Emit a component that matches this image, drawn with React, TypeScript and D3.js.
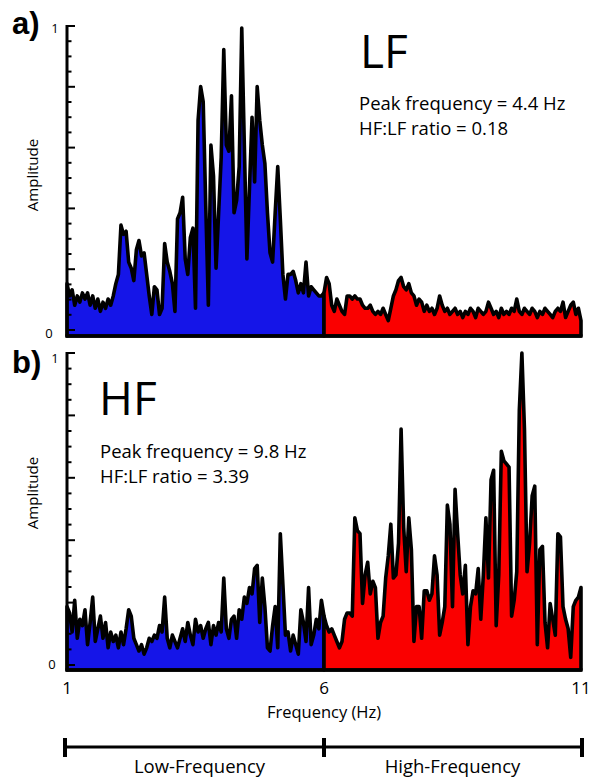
import React from "react";
import * as d3 from "d3";

const FREQ_DOMAIN = [1, 11];
const BAND_SPLIT = 6;
const X_TICKS = [1, 6, 11];
const Y_TICK_LABELS = [0, 1];
const BAND_LABELS = ["Low-Frequency", "High-Frequency"];

// Panel a) amplitudes, 1 Hz .. 11 Hz, step 0.05 Hz
const LF_AMP = [
  0.17, 0.13, 0.15, 0.10, 0.13, 0.11, 0.14, 0.12, 0.14, 0.10, 0.13, 0.09, 0.12, 0.08, 0.11, 0.09, 0.12, 0.10, 0.13, 0.17,
  0.20, 0.36, 0.33, 0.34, 0.24, 0.22, 0.18, 0.28, 0.31, 0.26, 0.27, 0.20, 0.13, 0.07, 0.16, 0.15, 0.07, 0.09, 0.30, 0.24,
  0.21, 0.17, 0.08, 0.38, 0.40, 0.45, 0.25, 0.20, 0.32, 0.35, 0.09, 0.70, 0.81, 0.76, 0.42, 0.10, 0.62, 0.52, 0.22, 0.40,
  0.58, 0.93, 0.62, 0.60, 0.78, 0.40, 0.44, 0.55, 1.00, 0.62, 0.25, 0.48, 0.71, 0.50, 0.81, 0.70, 0.62, 0.56, 0.40, 0.27,
  0.24, 0.40, 0.55, 0.38, 0.20, 0.12, 0.20, 0.20, 0.21, 0.18, 0.14, 0.17, 0.14, 0.24, 0.13, 0.16, 0.15, 0.14, 0.13, 0.13,
  0.14, 0.19, 0.17, 0.10, 0.08, 0.12, 0.10, 0.08, 0.07, 0.13, 0.13, 0.12, 0.13, 0.12, 0.12, 0.10, 0.09, 0.09, 0.10, 0.08,
  0.07, 0.08, 0.07, 0.09, 0.07, 0.05, 0.09, 0.13, 0.15, 0.18, 0.19, 0.16, 0.15, 0.17, 0.14, 0.13, 0.10, 0.12, 0.11, 0.08,
  0.10, 0.08, 0.09, 0.07, 0.09, 0.13, 0.10, 0.08, 0.09, 0.07, 0.08, 0.09, 0.07, 0.08, 0.06, 0.08, 0.07, 0.09, 0.08, 0.06,
  0.09, 0.08, 0.07, 0.08, 0.11, 0.09, 0.07, 0.08, 0.06, 0.09, 0.07, 0.08, 0.07, 0.09, 0.08, 0.12, 0.08, 0.07, 0.09, 0.08,
  0.07, 0.09, 0.08, 0.06, 0.08, 0.07, 0.09, 0.08, 0.07, 0.06, 0.08, 0.09, 0.08, 0.11, 0.06, 0.08, 0.10, 0.11, 0.07, 0.09, 0.05,
];

// Panel b) amplitudes, 1 Hz .. 11 Hz, step 0.05 Hz
const HF_AMP = [
  0.20, 0.18, 0.12, 0.22, 0.10, 0.16, 0.14, 0.19, 0.08, 0.15, 0.23, 0.09, 0.13, 0.17, 0.10, 0.15, 0.07, 0.12, 0.09, 0.11,
  0.07, 0.12, 0.08, 0.13, 0.19, 0.17, 0.10, 0.08, 0.06, 0.08, 0.05, 0.07, 0.10, 0.09, 0.11, 0.10, 0.14, 0.12, 0.23, 0.10,
  0.07, 0.11, 0.09, 0.07, 0.10, 0.13, 0.09, 0.15, 0.11, 0.08, 0.16, 0.12, 0.14, 0.10, 0.13, 0.15, 0.08, 0.14, 0.11, 0.15,
  0.12, 0.29, 0.13, 0.10, 0.16, 0.17, 0.10, 0.19, 0.16, 0.23, 0.21, 0.26, 0.24, 0.32, 0.33, 0.15, 0.29, 0.20, 0.07, 0.06,
  0.14, 0.20, 0.07, 0.43, 0.27, 0.11, 0.12, 0.06, 0.11, 0.08, 0.05, 0.19, 0.15, 0.09, 0.26, 0.08, 0.11, 0.16, 0.13, 0.22,
  0.17, 0.14, 0.12, 0.13, 0.11, 0.09, 0.07, 0.09, 0.16, 0.18, 0.18, 0.17, 0.48, 0.44, 0.43, 0.21, 0.30, 0.34, 0.24, 0.28,
  0.26, 0.10, 0.15, 0.17, 0.29, 0.36, 0.46, 0.29, 0.30, 0.40, 0.76, 0.45, 0.31, 0.48, 0.38, 0.09, 0.20, 0.20, 0.10, 0.25,
  0.25, 0.22, 0.24, 0.36, 0.30, 0.11, 0.15, 0.20, 0.52, 0.46, 0.20, 0.57, 0.43, 0.30, 0.24, 0.33, 0.08, 0.20, 0.25, 0.24,
  0.32, 0.16, 0.30, 0.48, 0.29, 0.60, 0.63, 0.14, 0.30, 0.69, 0.66, 0.65, 0.64, 0.17, 0.22, 0.31, 0.82, 1.00, 0.76, 0.31,
  0.40, 0.55, 0.58, 0.08, 0.38, 0.39, 0.15, 0.07, 0.21, 0.16, 0.11, 0.43, 0.42, 0.20, 0.16, 0.13, 0.04, 0.20, 0.22, 0.23, 0.26,
];

const FONT = "'Open Sans', sans-serif";
const BOLD_FONT = "'Liberation Sans', Arial, sans-serif";
const BLUE = "#1515e8";
const RED = "#fa0000";

const x = d3.scaleLinear().domain(FREQ_DOMAIN).range([67, 581]);

type PanelProps = {
  amps: number[];
  top: number;
  bottom: number;
  tickTop: number;
  tickBottom: number;
  letter: string;
  letterY: number;
  title: string;
  titleX: number;
  titleY: number;
  lines: string[];
  infoX: number;
  infoY: number;
  ampY: number;
  oneLabelY: number;
  zeroLabelX: number;
  zeroLabelY: number;
};

function Panel(p: PanelProps) {
  const y = d3.scaleLinear().domain([0, 1]).range([p.bottom, p.top]);
  const yt = d3.scaleLinear().domain([0, 1]).range([p.tickBottom, p.tickTop]);
  const n = p.amps.length;
  const pts = p.amps.map((a, i) => ({
    f: FREQ_DOMAIN[0] + ((FREQ_DOMAIN[1] - FREQ_DOMAIN[0]) * i) / (n - 1),
    a,
  }));
  const area = d3
    .area<{ f: number; a: number }>()
    .x((d) => x(d.f))
    .y0(y(0))
    .y1((d) => y(d.a))
    .curve(d3.curveLinear);
  const low = pts.filter((q) => q.f <= BAND_SPLIT + 1e-9);
  const high = pts.filter((q) => q.f >= BAND_SPLIT - 1e-9);
  const ticks = d3.range(0, 21).map((i) => i / 20);
  const axisX = x(FREQ_DOMAIN[0]);
  return (
    <g>
      <path d={area(low) || ""} fill={BLUE} stroke="#000" strokeWidth={3.6} strokeLinejoin="round" />
      <path d={area(high) || ""} fill={RED} stroke="#000" strokeWidth={3.6} strokeLinejoin="round" />
      {/* y axis */}
      <line x1={axisX} x2={axisX} y1={yt(1) - 1} y2={p.bottom + 1.5} stroke="#000" strokeWidth={3} />
      {ticks.map((t, i) => {
        const major = i % 4 === 0;
        return (
          <line
            key={i}
            x1={axisX}
            x2={axisX + (major ? 8 : 4.5)}
            y1={yt(t)}
            y2={yt(t)}
            stroke="#000"
            strokeWidth={2}
          />
        );
      })}
      {/* x axis baseline */}
      <line x1={axisX - 1.5} x2={x(FREQ_DOMAIN[1]) + 1.5} y1={y(0)} y2={y(0)} stroke="#000" strokeWidth={3.5} />
      <text x={55} y={p.oneLabelY} fontFamily={FONT} fontSize={13} textAnchor="middle">
        {Y_TICK_LABELS[1]}
      </text>
      <text x={p.zeroLabelX} y={p.zeroLabelY} fontFamily={FONT} fontSize={13} textAnchor="middle">
        {Y_TICK_LABELS[0]}
      </text>
      <text
        transform={`translate(38,${p.ampY}) rotate(-90)`}
        fontFamily={FONT}
        fontSize={15}
        textAnchor="middle"
      >
        Amplitude
      </text>
      <text x={12} y={p.letterY} fontFamily={BOLD_FONT} fontWeight="bold" fontSize={31}>
        {p.letter}
      </text>
      <text x={p.titleX} y={p.titleY} fontFamily={FONT} fontSize={46}>
        {p.title}
      </text>
      {p.lines.map((l, i) => (
        <text key={i} x={p.infoX} y={p.infoY + i * 25} fontFamily={FONT} fontSize={18.5}>
          {l}
        </text>
      ))}
    </g>
  );
}

export default function App() {
  const bracketY = 747;
  const bands = [
    [FREQ_DOMAIN[0], BAND_SPLIT],
    [BAND_SPLIT, FREQ_DOMAIN[1]],
  ];
  return (
    <svg
      width={591}
      height={778}
      viewBox="0 0 591 778"
      style={{ position: "absolute", left: 0, top: 0, background: "#fff" }}
    >
      <Panel
        amps={LF_AMP}
        top={28}
        bottom={336}
        tickTop={26}
        tickBottom={330}
        letter="a)"
        letterY={34}
        title="LF"
        titleX={360}
        titleY={68}
        lines={["Peak frequency = 4.4 Hz", "HF:LF ratio = 0.18"]}
        infoX={359}
        infoY={110}
        ampY={175}
        oneLabelY={33}
        zeroLabelX={49}
        zeroLabelY={338}
      />
      <Panel
        amps={HF_AMP}
        top={353}
        bottom={670}
        tickTop={353}
        tickBottom={665}
        letter="b)"
        letterY={373}
        title="HF"
        titleX={99}
        titleY={415}
        lines={["Peak frequency = 9.8 Hz", "HF:LF ratio = 3.39"]}
        infoX={100}
        infoY={458}
        ampY={493}
        oneLabelY={363}
        zeroLabelX={52}
        zeroLabelY={669}
      />
      {X_TICKS.map((t) => (
        <text key={t} x={x(t)} y={694} fontFamily={FONT} fontSize={17} textAnchor="middle">
          {t}
        </text>
      ))}
      <text x={x(BAND_SPLIT)} y={718} fontFamily={FONT} fontSize={16.5} textAnchor="middle">
        Frequency (Hz)
      </text>
      <line x1={x(FREQ_DOMAIN[0]) - 2} x2={x(FREQ_DOMAIN[1]) + 1} y1={bracketY} y2={bracketY} stroke="#000" strokeWidth={3} />
      {X_TICKS.map((t) => (
        <line key={t} x1={x(t) + (t === 1 ? -2 : t === 11 ? 1 : 0)} x2={x(t) + (t === 1 ? -2 : t === 11 ? 1 : 0)} y1={bracketY - 9} y2={bracketY + 10} stroke="#000" strokeWidth={4} />
      ))}
      {bands.map((b, i) => (
        <text key={i} x={x((b[0] + b[1]) / 2) + (i === 0 ? 4 : 0)} y={773} fontFamily={FONT} fontSize={18.5} textAnchor="middle">
          {BAND_LABELS[i]}
        </text>
      ))}
    </svg>
  );
}
